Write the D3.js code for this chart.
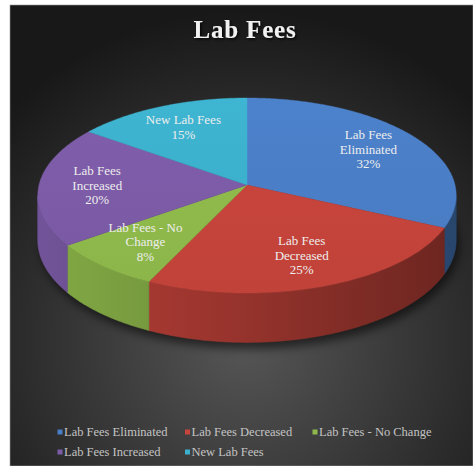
<!DOCTYPE html>
<html>
<head>
<meta charset="utf-8">
<script src="https://cdn.jsdelivr.net/npm/d3@7"></script>
<style>
  html, body { margin: 0; padding: 0; background: #ffffff; }
  svg { display: block; }
  .serif { font-family: "Liberation Serif", "DejaVu Serif", serif; }
</style>
</head>
<body>
<svg id="chart" width="473" height="466"></svg>
<script>
// Survey share of lab-fee outcomes
const categories = ["Lab Fees Eliminated", "Lab Fees Decreased", "Lab Fees - No Change", "Lab Fees Increased", "New Lab Fees"];
const values = [32, 25, 8, 20, 15];
const colors = ["#4a7ec6", "#c6443b", "#8fba4b", "#7c5ba7", "#3cb0cc"];
const title = "Lab Fees";

const W = 473, H = 466;
const svg = d3.select("#chart");
const defs = svg.append("defs");

// Panel background: dark radial gradient with a lighter glow below the pie
const bg = defs.append("radialGradient").attr("id", "bg")
  .attr("gradientUnits", "userSpaceOnUse")
  .attr("cx", 245).attr("cy", 340).attr("r", 330);
bg.append("stop").attr("offset", 0).attr("stop-color", "#565656");
bg.append("stop").attr("offset", 0.45).attr("stop-color", "#3a3a3a");
bg.append("stop").attr("offset", 1).attr("stop-color", "#181818");

svg.append("rect").attr("x", 0).attr("y", 0).attr("width", W).attr("height", H).attr("fill", "#ffffff");
svg.append("rect").attr("x", 10).attr("y", 5).attr("width", W - 10).attr("height", H - 5)
  .attr("fill", "url(#bg)").attr("stroke", "#9a9a9a").attr("stroke-width", 0.6);

// Title
const tf = defs.append("filter").attr("id", "tshadow").attr("x", "-20%").attr("y", "-40%").attr("width", "140%").attr("height", "180%");
tf.append("feDropShadow").attr("dx", 1.5).attr("dy", 1.5).attr("stdDeviation", 1).attr("flood-color", "#000").attr("flood-opacity", 0.8);
svg.append("text").attr("class", "serif").attr("x", 245).attr("y", 38).attr("text-anchor", "middle")
  .attr("font-weight", "bold")
  .attr("font-size", 25).attr("letter-spacing", 0.8).attr("fill", "#f2f2f2")
  .attr("filter", "url(#tshadow)").text(title);

// 3D pie geometry: unit circle projected with mild perspective
const CX = 247, CY = 185, RX = 208, RY = 96.4, K = 0.108, DEPTH = 44;
function proj(a, r = 1, down = 0) {
  const u = Math.sin(a) * r, v = -Math.cos(a) * r;
  const f = 1 / (1 - K * v);
  return [CX + RX * u * f, CY + RY * v * f + down * f];
}

const pie = d3.pie().sort(null).value(d => d)(values);
const step = Math.PI / 360;
function samples(a0, a1) {
  const n = Math.max(2, Math.ceil((a1 - a0) / step));
  return d3.range(n + 1).map(i => a0 + (a1 - a0) * i / n);
}

// Soft shadow beneath the pie
const sf = defs.append("filter").attr("id", "pshadow").attr("x", "-20%").attr("y", "-30%").attr("width", "140%").attr("height", "160%");
sf.append("feGaussianBlur").attr("stdDeviation", 5);
const rim = samples(0, 2 * Math.PI).map(a => proj(a, 1.0, DEPTH + 4));
svg.append("path").attr("d", d3.line()(rim) + "Z")
  .attr("fill", "#000").attr("opacity", 0.55).attr("filter", "url(#pshadow)")
  .attr("transform", "translate(3,2)");

// Outer walls: only the front-facing part of each slice's arc
const wallGroup = svg.append("g");
pie.forEach((p, i) => {
  const g = defs.append("linearGradient").attr("id", "side" + i)
    .attr("gradientUnits", "userSpaceOnUse").attr("x1", 40).attr("y1", 0).attr("x2", 456).attr("y2", 0);
  const c = d3.color(colors[i]);
  g.append("stop").attr("offset", 0).attr("stop-color", c.darker(0.25));
  g.append("stop").attr("offset", 0.45).attr("stop-color", c.darker(0.75));
  g.append("stop").attr("offset", 1).attr("stop-color", c.darker(1.7));

  const pts = samples(p.startAngle, p.endAngle);
  const vis = [];
  for (let j = 0; j < pts.length; j++) {
    const a = pts[j];
    const x0 = proj(a - 1e-4)[0], x1 = proj(a + 1e-4)[0];
    if (x1 < x0) vis.push(a);
  }
  if (vis.length < 2) return;
  const top = vis.map(a => proj(a));
  const bot = vis.map(a => proj(a, 1, DEPTH)).reverse();
  wallGroup.append("path").attr("d", d3.line()(top.concat(bot)) + "Z")
    .attr("fill", `url(#side${i})`).attr("stroke", `url(#side${i})`).attr("stroke-width", 0.6);
});

// Top faces
const topGroup = svg.append("g");
pie.forEach((p, i) => {
  const arcPts = samples(p.startAngle, p.endAngle).map(a => proj(a));
  const pts = [[CX, CY]].concat(arcPts);
  const g = defs.append("linearGradient").attr("id", "top" + i)
    .attr("gradientUnits", "userSpaceOnUse").attr("x1", 0).attr("y1", 95).attr("x2", 0).attr("y2", 300);
  const c = d3.color(colors[i]);
  g.append("stop").attr("offset", 0).attr("stop-color", c.brighter(0.08));
  g.append("stop").attr("offset", 1).attr("stop-color", c.darker(0.08));
  topGroup.append("path").attr("d", d3.line()(pts) + "Z")
    .attr("fill", `url(#top${i})`).attr("stroke", `url(#top${i})`).attr("stroke-width", 0.4);
});

// Data labels on the slices
function wrap(name, maxChars) {
  const words = name.split(" ");
  const lines = [];
  let cur = "";
  words.forEach(w => {
    const next = cur ? cur + " " + w : w;
    if (next.length > maxChars && cur) { lines.push(cur); cur = w; }
    else cur = next;
  });
  if (cur) lines.push(cur);
  return lines;
}
const labelGroup = svg.append("g");
pie.forEach((p, i) => {
  const mid = (p.startAngle + p.endAngle) / 2;
  const [x, y] = proj(mid, 0.72);
  const lines = wrap(categories[i], 13).concat([values[i] + "%"]);
  const lh = 14.5;
  const t = labelGroup.append("text").attr("class", "serif")
    .attr("font-size", 13).attr("fill", "#eeeeee").attr("text-anchor", "middle")
    .attr("x", x).attr("y", y - (lines.length - 1) * lh / 2 + 4.5);
  lines.forEach((ln, k) => {
    t.append("tspan").attr("x", x).attr("dy", k === 0 ? 0 : lh).text(ln);
  });
});

// Legend: three columns, wrapping onto a second row
const legend = svg.append("g");
const colW = 127.5, lx0 = 60, ly0 = 432, rowH = 20;
categories.forEach((name, i) => {
  const col = i % 3, row = Math.floor(i / 3);
  const x = lx0 + col * colW, y = ly0 + row * rowH;
  legend.append("rect").attr("x", x - 2.5).attr("y", y - 2.5).attr("width", 5).attr("height", 5)
    .attr("fill", colors[i]);
  legend.append("text").attr("class", "serif").attr("font-size", 12.5).attr("fill", "#c4c4c4")
    .attr("x", x + 4).attr("y", y + 4).text(name);
});
</script>
</body>
</html>
